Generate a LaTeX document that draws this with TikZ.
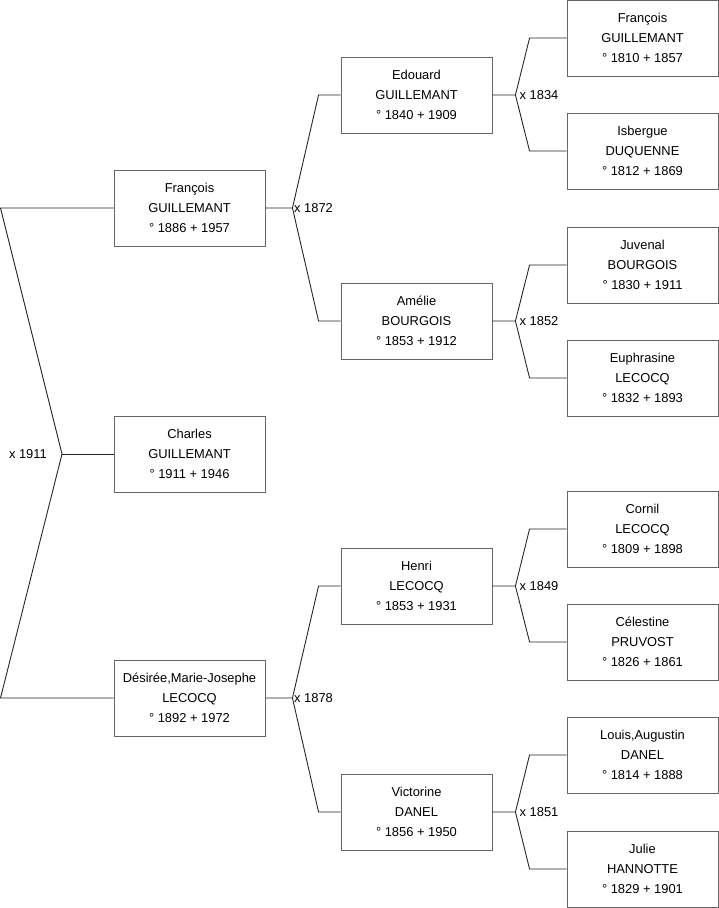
\documentclass[tikz,border=0pt]{standalone}
\usepackage{fontspec}
\setmainfont{Liberation Sans}
\usetikzlibrary{calc}
\tikzset{person/.style={draw=black!60,line width=.9pt,minimum width=151pt,minimum height=76pt,
           align=center,inner sep=0pt,text=black,font=\fontsize{12.9}{20}\selectfont},
         link/.style={line width=.9pt,black!85},
         wed/.style={inner sep=0pt,text=black,font=\fontsize{12.9}{15}\selectfont}}

\begin{document}
\begin{tikzpicture}[x=1pt,y=-1pt]
  \useasboundingbox (0,0) rectangle (719,908);
  % generation 1
  \node[person] (charles) at (189.5,454) {Charles\\GUILLEMANT\\° 1911 + 1946};
  % generation 2
  \node[person] (francois) at (189.5,208) {François\\GUILLEMANT\\° 1886 + 1957};
  \node[person] (desiree) at (189.5,698) {Désirée,Marie-Josephe\\LECOCQ\\° 1892 + 1972};
  % generation 3
  \node[person] (edouard) at (416.5,95) {Edouard\\GUILLEMANT\\° 1840 + 1909};
  \node[person] (amelie) at (416.5,321) {Amélie\\BOURGOIS\\° 1853 + 1912};
  \node[person] (henri) at (416.5,586) {Henri\\LECOCQ\\° 1853 + 1931};
  \node[person] (victorine) at (416.5,812) {Victorine\\DANEL\\° 1856 + 1950};
  % generation 4
  \node[person] (francoisS) at (642.5,38) {François\\GUILLEMANT\\° 1810 + 1857};
  \node[person] (isbergue) at (642.5,151) {Isbergue\\DUQUENNE\\° 1812 + 1869};
  \node[person] (juvenal) at (642.5,265) {Juvenal\\BOURGOIS\\° 1830 + 1911};
  \node[person] (euphrasine) at (642.5,378) {Euphrasine\\LECOCQ\\° 1832 + 1893};
  \node[person] (cornil) at (642.5,529) {Cornil\\LECOCQ\\° 1809 + 1898};
  \node[person] (celestine) at (642.5,642) {Célestine\\PRUVOST\\° 1826 + 1861};
  \node[person] (louis) at (642.5,755) {Louis,Augustin\\DANEL\\° 1814 + 1888};
  \node[person] (julie) at (642.5,869) {Julie\\HANNOTTE\\° 1829 + 1901};

  % marriage forks
  \coordinate (edge) at (0.5,0);
  \coordinate (w1911) at (62,454);
  \draw[link] (w1911) -- (charles.west);
  \draw[link] (francois.west) -- (francois.west -| edge) -- (w1911)
    -- (desiree.west -| edge) -- (desiree.west);
  \node[wed,anchor=east] (m1911) at ([xshift=-15pt]w1911) {x 1911};

  \coordinate (w1872) at ($(francois.east)+(27,0)$);
  \draw[link] (francois.east) -- (w1872) -- ([xshift=-22pt]edouard.west) -- (edouard.west);
  \draw[link] (w1872) -- ([xshift=-22pt]amelie.west) -- (amelie.west);
  \node[wed,anchor=west] (m1872) at ([xshift=1.5pt]w1872) {x 1872};

  \coordinate (w1878) at ($(desiree.east)+(27,0)$);
  \draw[link] (desiree.east) -- (w1878) -- ([xshift=-22pt]henri.west) -- (henri.west);
  \draw[link] (w1878) -- ([xshift=-22pt]victorine.west) -- (victorine.west);
  \node[wed,anchor=west] (m1878) at ([xshift=1.5pt]w1878) {x 1878};

  \coordinate (w1834) at ($(edouard.east)+(23,0)$);
  \draw[link] (edouard.east) -- (w1834) -- ([xshift=-37pt]francoisS.west) -- (francoisS.west);
  \draw[link] (w1834) -- ([xshift=-37pt]isbergue.west) -- (isbergue.west);
  \node[wed,anchor=west] (m1834) at ([xshift=4pt]w1834) {x 1834};

  \coordinate (w1852) at ($(amelie.east)+(23,0)$);
  \draw[link] (amelie.east) -- (w1852) -- ([xshift=-37pt]juvenal.west) -- (juvenal.west);
  \draw[link] (w1852) -- ([xshift=-37pt]euphrasine.west) -- (euphrasine.west);
  \node[wed,anchor=west] (m1852) at ([xshift=4pt]w1852) {x 1852};

  \coordinate (w1849) at ($(henri.east)+(23,0)$);
  \draw[link] (henri.east) -- (w1849) -- ([xshift=-37pt]cornil.west) -- (cornil.west);
  \draw[link] (w1849) -- ([xshift=-37pt]celestine.west) -- (celestine.west);
  \node[wed,anchor=west] (m1849) at ([xshift=4pt]w1849) {x 1849};

  \coordinate (w1851) at ($(victorine.east)+(23,0)$);
  \draw[link] (victorine.east) -- (w1851) -- ([xshift=-37pt]louis.west) -- (louis.west);
  \draw[link] (w1851) -- ([xshift=-37pt]julie.west) -- (julie.west);
  \node[wed,anchor=west] (m1851) at ([xshift=4pt]w1851) {x 1851};
\end{tikzpicture}
\end{document}
